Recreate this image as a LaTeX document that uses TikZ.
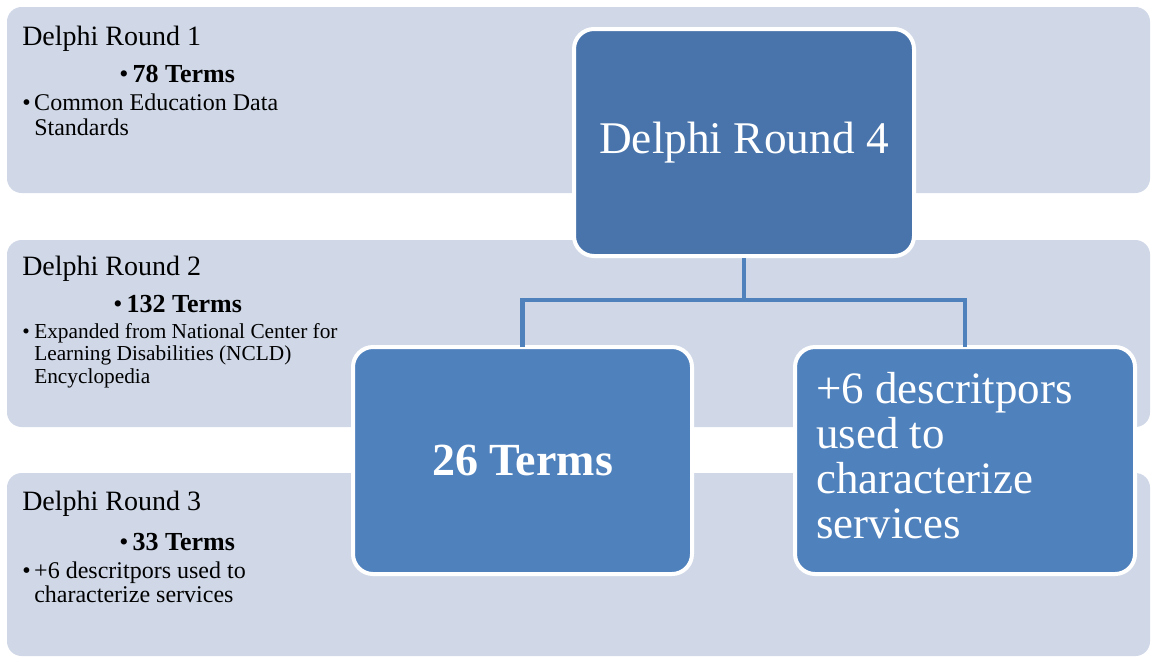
\documentclass[tikz,border=0pt]{standalone}
\usepackage{fontspec}
\setmainfont{Liberation Serif}
\definecolor{bandfill}{HTML}{D0D8E8}
\definecolor{topfill}{HTML}{4874AB}
\definecolor{childfill}{HTML}{4F81BD}
\definecolor{connclr}{HTML}{4F81BD}
\begin{document}
\begin{tikzpicture}[x=0.75pt,y=-0.75pt,
  band/.style={fill=bandfill,draw=none,rounded corners=11pt,inner sep=0pt,outer sep=0pt},
  bluebox/.style={draw=white,line width=3pt,rounded corners=15pt,inner sep=0pt,text=white},
  title/.style={anchor=base west,inner sep=0pt,font=\fontsize{21}{24}\selectfont},
  terms/.style={anchor=base west,inner sep=0pt,font=\fontsize{19.5}{22}\selectfont\bfseries},
  detail/.style={anchor=base west,inner sep=0pt},
  conn/.style={draw=connclr,line width=3.6pt}]
\useasboundingbox (0,0) rectangle (1151,658);
\fill[white] (0,0) rectangle (1151,658);
% bands
\path[band] (7,7) rectangle (1150,193) node[midway,inner sep=0pt] (band1) {};
\path[band] (7,240) rectangle (1150,427) node[midway,inner sep=0pt] (band2) {};
\path[band] (7,473) rectangle (1150,656) node[midway,inner sep=0pt] (band3) {};
% round 1
\node[title] (r1t) at (22,45) {Delphi Round 1};
\node[terms] (r1n) at (119,82) {\makebox[10pt][l]{\mdseries•}78 Terms};
\node[detail] (r1d) at (22,110) {\fontsize{18}{18.75}\selectfont\begin{tabular}[t]{@{}l@{}l@{}}\makebox[9pt][l]{•}&Common Education Data\\&Standards\end{tabular}};
% round 2
\node[title] (r2t) at (22,275) {Delphi Round 2};
\node[terms] (r2n) at (113,312) {\makebox[10pt][l]{\mdseries•}132 Terms};
\node[detail] (r2d) at (22,338) {\fontsize{16}{17.2}\selectfont\begin{tabular}[t]{@{}l@{}l@{}}\makebox[9pt][l]{•}&Expanded from National Center for\\&Learning Disabilities (NCLD)\\&Encyclopedia\end{tabular}};
% round 3
\node[title] (r3t) at (22,510) {Delphi Round 3};
\node[terms] (r3n) at (119,550) {\makebox[10pt][l]{\mdseries•}33 Terms};
\node[detail] (r3d) at (22,578) {\fontsize{18}{18}\selectfont\begin{tabular}[t]{@{}l@{}l@{}}\makebox[9pt][l]{•}&+6 descritpors used to\\&characterize services\end{tabular}};
% hierarchy boxes
\node[bluebox,fill=topfill,minimum width=255pt,minimum height=170.25pt,font=\fontsize{34}{36}\selectfont] (r4) at (744,142.5) {Delphi Round 4};
\node[bluebox,fill=childfill,minimum width=254.25pt,minimum height=170.25pt,font=\fontsize{34.5}{36}\selectfont\bfseries] (c1) at (522.5,460.5) {26 Terms};
\node[bluebox,fill=childfill,minimum width=255pt,minimum height=170.25pt] (c2) at (965,460.5) {};
\node[anchor=base west,inner sep=0pt,text=white,align=left,font=\fontsize{33.7}{33.75}\selectfont] (c2t) at (816,403) {\begin{tabular}[t]{@{}l@{}}+6 descritpors\\used to\\characterize\\services\end{tabular}};
% connectors
\path (r4.south) ++(0,42) coordinate (hub);
\draw[conn] (r4.south) -- (hub);
\draw[conn,line cap=rect] (hub) -| (c1.north);
\draw[conn,line cap=rect] (hub) -| (c2.north);
\end{tikzpicture}
\end{document}
